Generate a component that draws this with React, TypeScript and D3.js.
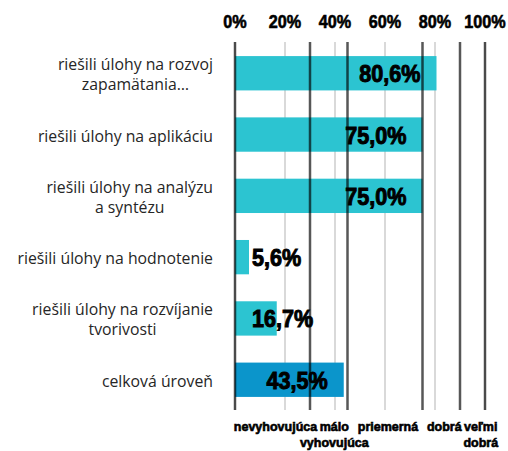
import React, { useEffect, useRef } from "react";
import * as d3 from "d3";

const categories: string[][] = [
  ["riešili úlohy na rozvoj", "zapamätania…"],
  ["riešili úlohy na aplikáciu"],
  ["riešili úlohy na analýzu", "a syntézu"],
  ["riešili úlohy na hodnotenie"],
  ["riešili úlohy na rozvíjanie", "tvorivosti"],
  ["celková úroveň"],
];
const values: number[] = [80.6, 75.0, 75.0, 5.6, 16.7, 43.5];
const barColors: string[] = ["#2CC4D1", "#2CC4D1", "#2CC4D1", "#2CC4D1", "#2CC4D1", "#0B95CB"];
const tickValues: number[] = [0, 20, 40, 60, 80, 100];
const thresholds: number[] = [0, 30, 45, 75, 90, 100];
const levelLabels: string[][] = [
  ["nevyhovujúca"],
  ["málo", "vyhovujúca"],
  ["priemerná"],
  ["dobrá"],
  ["veľmi", "dobrá"],
];

const W = 508;
const H = 451;

export default function App() {
  const ref = useRef<SVGSVGElement | null>(null);

  useEffect(() => {
    const svg = d3.select(ref.current);
    svg.selectAll("*").remove();

    const x = d3.scaleLinear().domain([0, 100]).range([235, 485]);
    const y = d3
      .scaleBand<number>()
      .domain(values.map((_, i) => i))
      .range([42.6, 410.4])
      .paddingInner(0.44)
      .paddingOuter(0.22);
    const top = 42;
    const bottom = 410;
    const heavy = "'Liberation Sans', Arial, sans-serif";

    // light gridlines
    svg
      .append("g")
      .selectAll("line")
      .data(tickValues)
      .join("line")
      .attr("x1", (d) => x(d))
      .attr("x2", (d) => x(d))
      .attr("y1", top)
      .attr("y2", bottom)
      .attr("stroke", "#d9d9d9")
      .attr("stroke-width", 2);

    // bars
    svg
      .append("g")
      .selectAll("rect")
      .data(values)
      .join("rect")
      .attr("x", x(0))
      .attr("y", (_, i) => y(i)!)
      .attr("width", (d) => x(d) - x(0))
      .attr("height", y.bandwidth())
      .attr("fill", (_, i) => barColors[i]);

    // threshold lines
    svg
      .append("g")
      .selectAll("line")
      .data(thresholds)
      .join("line")
      .attr("x1", (d) => x(d))
      .attr("x2", (d) => x(d))
      .attr("y1", top)
      .attr("y2", bottom)
      .attr("stroke", "#000")
      .attr("stroke-opacity", 0.66)
      .attr("stroke-width", 2.5);

    // top tick labels
    svg
      .append("g")
      .selectAll("text")
      .data(tickValues)
      .join("text")
      .attr("transform", (d) => `translate(${x(d)},28) scale(0.9,1)`)
      .attr("text-anchor", "middle")
      .attr("font-family", heavy)
      .attr("font-weight", "bold")
      .attr("font-size", 18)
      .attr("fill", "#000")
      .attr("stroke", "#000")
      .attr("stroke-width", 0.6)
      .text((d) => `${d}%`);

    // category labels
    const catG = svg.append("g");
    categories.forEach((lines, i) => {
      const c = y(i)! + y.bandwidth() / 2;
      const vc = c + 1.5;
      const g = catG.append("g");
      const texts = g
        .selectAll("text")
        .data(lines)
        .join("text")
        .attr("font-family", "'Open Sans', 'Noto Sans', sans-serif")
        .attr("font-size", 15.8)
        .attr("fill", "#262626")
        .attr("text-anchor", "middle")
        .text((d) => d);
      let maxW = 0;
      texts.each(function () {
        maxW = Math.max(maxW, (this as SVGTextElement).getComputedTextLength());
      });
      const cx = 213 - maxW / 2;
      const lh = 20;
      const first = vc + 5.5 - ((lines.length - 1) * lh) / 2;
      texts.attr("x", cx).attr("y", (_, k) => first + k * lh);
    });

    // value labels
    const sx = 0.9;
    const vg = svg.append("g");
    values.forEach((v, i) => {
      const c = y(i)! + y.bandwidth() / 2;
      const t = vg
        .append("text")
        .attr("font-family", heavy)
        .attr("font-weight", "bold")
        .attr("font-size", 24)
        .attr("fill", "#000")
        .attr("stroke", "#000")
        .attr("stroke-width", 1)
        .text(`${d3.format(".1f")(v).replace(".", ",")}%`);
      const w = (t.node() as SVGTextElement).getComputedTextLength() * sx;
      const endX = x(v) - 16;
      const minStart = x(0) + 17;
      if (endX - w < minStart) {
        t.attr("text-anchor", "start").attr("transform", `translate(${minStart},${c + 9}) scale(${sx},1)`);
      } else {
        t.attr("text-anchor", "end").attr("transform", `translate(${endX},${c + 9}) scale(${sx},1)`);
      }
    });

    // level labels (first lines pushed right to avoid collisions)
    const lg = svg.append("g");
    let prevEnd = -Infinity;
    levelLabels.forEach((lines, i) => {
      let center = (x(thresholds[i]) + x(thresholds[i + 1])) / 2 + 3;
      const texts = lines.map((ln, k) =>
        lg
          .append("text")
          .attr("text-anchor", "middle")
          .attr("font-family", heavy)
          .attr("font-weight", "bold")
          .attr("font-size", 12.5)
          .attr("fill", "#000")
          .attr("stroke", "#000")
          .attr("stroke-width", 0.6)
          .attr("y", 431 + k * 15.5)
          .text(ln)
      );
      const w0 = (texts[0].node() as SVGTextElement).getComputedTextLength();
      if (center - w0 / 2 < prevEnd + 2.5) center = prevEnd + 2.5 + w0 / 2;
      prevEnd = center + w0 / 2;
      texts.forEach((t) => t.attr("x", center));
    });
  }, []);

  return (
    <svg
      ref={ref}
      width={W}
      height={H}
      style={{ position: "absolute", left: 0, top: 0, background: "#fff" }}
    />
  );
}
